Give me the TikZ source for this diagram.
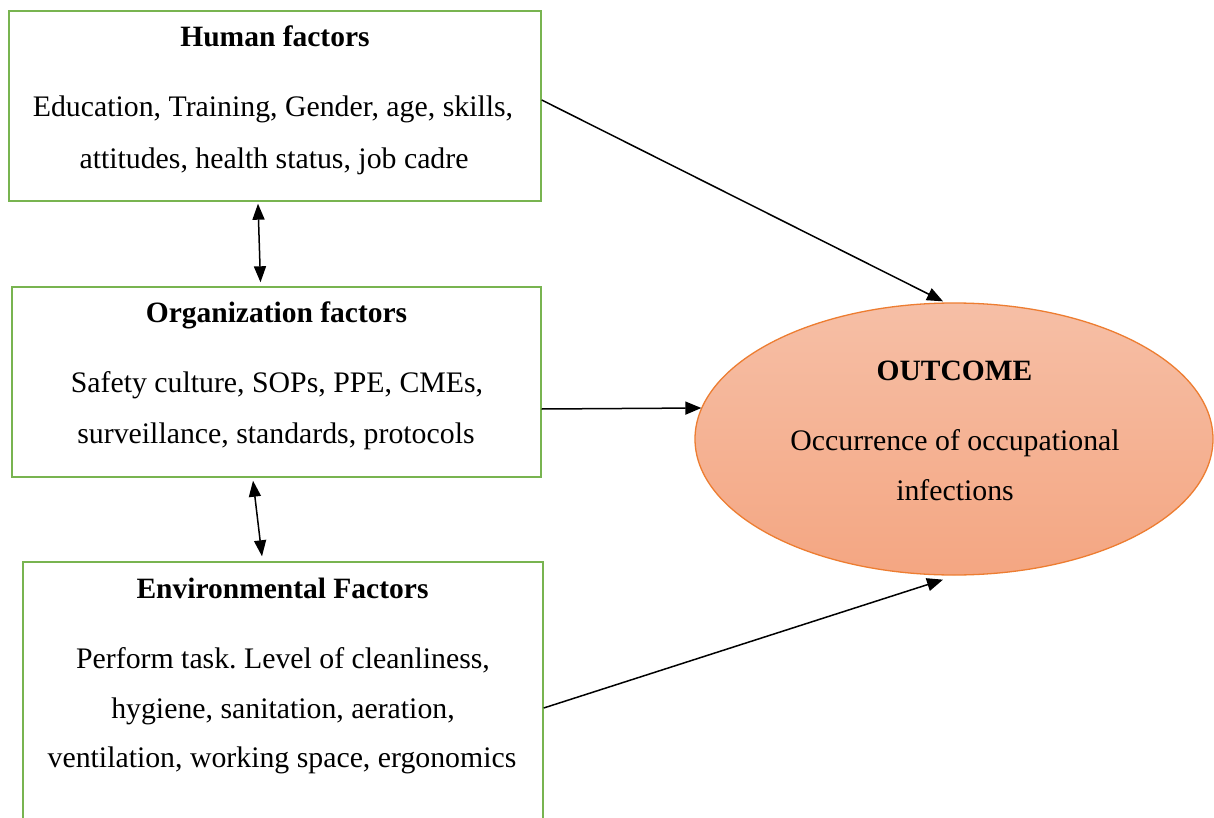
\documentclass[tikz,border=0pt]{standalone}
\usepackage{fontspec}
\setmainfont{Liberation Serif}
\frenchspacing
\usetikzlibrary{shapes.geometric,arrows.meta}
\definecolor{boxgreen}{RGB}{120,180,80}
\definecolor{ellborder}{RGB}{237,125,49}
\definecolor{elltop}{RGB}{246,191,166}
\definecolor{ellbot}{RGB}{244,166,130}
\tikzset{
  factorbox/.style={draw=boxgreen, line width=1.4pt, rectangle, inner sep=0pt},
  txt/.style={anchor=base, inner sep=0pt, font=\fontsize{29.8}{35}\selectfont},
  ttl/.style={txt, font=\fontsize{29.5}{35}\selectfont\bfseries},
  conn/.style={line width=1.5pt, -{Triangle[length=16pt,width=13pt]}},
  dconn/.style={line width=1.5pt, {Triangle[length=16pt,width=12pt]}-{Triangle[length=16pt,width=12pt]}},
}
\begin{document}
\begin{tikzpicture}[x=1pt,y=-1pt]
\useasboundingbox (0,0) rectangle (1214,818);
\clip (0,0) rectangle (1214,818);
\fill[white] (0,0) rectangle (1214,818);
% boxes
\node[factorbox, minimum width=532pt, minimum height=190pt] (human) at (275,106) {};
\node[factorbox, minimum width=529pt, minimum height=190pt] (org) at (276.5,382) {};
\node[factorbox, minimum width=520pt, minimum height=300pt] (env) at (283,712) {};
\node[ellipse, draw=ellborder, line width=1.3pt, top color=elltop, bottom color=ellbot,
      minimum width=518pt, minimum height=272pt, inner sep=0pt] (outcome) at (954,439) {};
% texts
\node[ttl] (htitle) at (275,47) {Human factors};
\node[txt] (hl1) at (273,117) {Education, Training, Gender, age, skills,};
\node[txt] (hl2) at (274,169) {attitudes, health status, job cadre};
\node[ttl] (otitle) at (276.5,322) {Organization factors};
\node[txt] (ol1) at (277,392) {Safety culture, SOPs, PPE, CMEs,};
\node[txt] (ol2) at (276,443) {surveillance, standards, protocols};
\node[ttl] (etitle) at (282.5,598) {Environmental Factors};
\node[txt] (el1) at (283,668) {Perform task. Level of cleanliness,};
\node[txt] (el2) at (283,718) {hygiene, sanitation, aeration,};
\node[txt] (el3) at (282,767) {ventilation, working space, ergonomics};
\node[ttl] (ctitle) at (954.5,380) {OUTCOME};
\node[txt] (cl1) at (955,450) {Occurrence of occupational};
\node[txt] (cl2) at (955,500) {infections};
% connectors
\draw[conn] ([yshift=6pt]human.east) -- ([xshift=-11pt,yshift=1pt]outcome.north);
\draw[conn] ([yshift=-27pt]org.east) -- ([xshift=7pt,yshift=31pt]outcome.west);
\draw[conn] ([yshift=4pt]env.east) -- ([xshift=-11pt,yshift=-4pt]outcome.south);
\draw[dconn] ([xshift=-17pt,yshift=-2pt]human.south) -- ([xshift=-16pt,yshift=4pt]org.north);
\draw[dconn] ([xshift=-23.5pt,yshift=-3pt]org.south) -- ([xshift=-21pt,yshift=5pt]env.north);
\end{tikzpicture}
\end{document}
